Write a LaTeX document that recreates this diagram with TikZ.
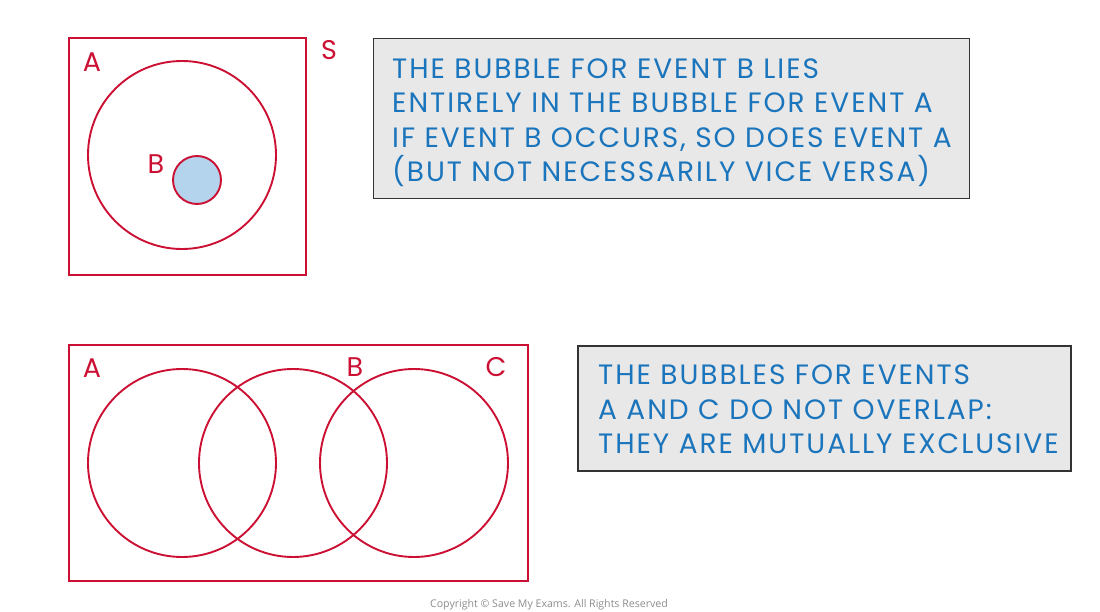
\documentclass[tikz,border=0pt]{standalone}
\usepackage{fontspec}
\setmainfont{Poppins}
\newfontfamily\hand[LetterSpace=7]{Poppins}
\newfontfamily\labfont{Poppins}
\newfontfamily\copyfont{Open Sans}
\definecolor{vred}{RGB}{204,16,51}
\definecolor{vblue}{RGB}{27,117,188}
\definecolor{bfill}{RGB}{179,212,236}
\definecolor{boxfill}{RGB}{232,232,232}
\definecolor{boxline}{RGB}{51,51,51}
\tikzset{
  frame/.style={draw=vred, line width=1.9pt},
  bubble/.style={circle, draw=vred, line width=1.9pt, inner sep=0pt, minimum size=#1},
  lab/.style={text=vred, font=\labfont\fontsize{27}{27}\selectfont, inner sep=0pt},
  note/.style={draw=boxline, fill=boxfill, line width=1.5pt, inner sep=0pt},
  line/.style={text=vblue, font=\hand\fontsize{28}{28}\selectfont, inner sep=0pt, anchor=base west},
}
\begin{document}
\begin{tikzpicture}[x=1pt,y=-1pt]
\useasboundingbox (0,0) rectangle (1100,612);
% top diagram
\node[frame, rectangle, minimum width=237pt, minimum height=237pt, inner sep=0pt] (S1) at (187.5,156.5) {};
\node[bubble=188pt] (A1) at (182,155) {};
\node[bubble=48pt, fill=bfill] (B1) at (197,180) {};
\node[lab] (lA1) at (92,62) {A};
\node[lab] (lB1) at (156,164) {B};
\node[lab] (lS1) at (329,50) {S};
\node[note, minimum width=596pt, minimum height=160pt] (N1) at (671.5,118.5) {};
\node[line] (T1a) at (392,78.5) {THE BUBBLE FOR EVENT B LIES};
\node[line] (T1b) at (392,113) {ENTIRELY IN THE BUBBLE FOR EVENT A};
\node[line] (T1c) at (392,147.5) {IF EVENT B OCCURS, SO DOES EVENT A};
\node[line] (T1d) at (392,182) {(BUT NOT NECESSARILY VICE VERSA)};
% bottom diagram
\node[frame, rectangle, minimum width=459pt, minimum height=236pt, inner sep=0pt] (S2) at (298.5,463) {};
\node[bubble=188pt] (A2) at (182,463) {};
\node[bubble=188pt] (B2) at (293,463) {};
\node[bubble=188pt] (C2) at (414,463) {};
\node[lab] (lA2) at (92,368) {A};
\node[lab] (lB2) at (355,367) {B};
\node[lab] (lC2) at (496,367) {C};
\node[note, minimum width=493pt, minimum height=125pt] (N2) at (824.5,408.5) {};
\node[line] (T2a) at (598,384.5) {THE BUBBLES FOR EVENTS};
\node[line] (T2b) at (598,419.5) {A AND C DO NOT OVERLAP:};
\node[line] (T2c) at (598,453.5) {THEY ARE MUTUALLY EXCLUSIVE};
\node[text=black!45, font=\copyfont\fontsize{10.6}{10.6}\selectfont, inner sep=0pt] (cp) at (549,605) {Copyright \textcopyright{} Save My Exams. All Rights Reserved};
\end{tikzpicture}
\end{document}
